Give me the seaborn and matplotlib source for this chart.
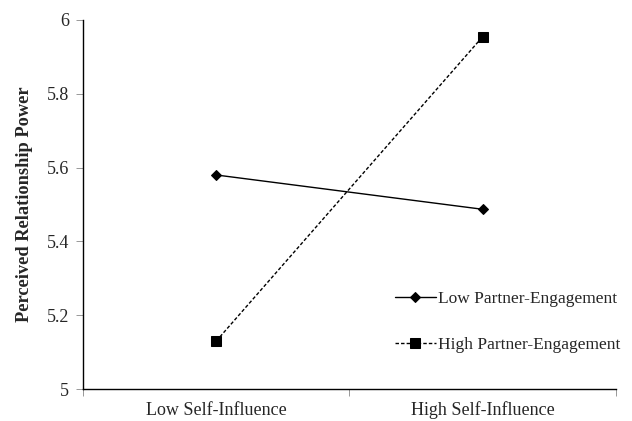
import matplotlib
matplotlib.use("Agg")
import matplotlib.pyplot as plt
import seaborn as sns
import pandas as pd
from matplotlib.ticker import FixedLocator, NullFormatter

categories = ["Low Self-Influence", "High Self-Influence"]
low_pe = [5.58, 5.487]
high_pe = [5.13, 5.955]
series_names = ["Low Partner-Engagement", "High Partner-Engagement"]
y_ticks = [5, 5.2, 5.4, 5.6, 5.8, 6]

df = pd.DataFrame({
    "cond": categories * 2,
    "power": low_pe + high_pe,
    "group": [series_names[0]] * 2 + [series_names[1]] * 2,
})

sns.set_theme(style="ticks")
plt.rcParams["font.family"] = ["Liberation Serif", "DejaVu Serif"]

fig = plt.figure(figsize=(6.32, 4.21), dpi=100)
ax = fig.add_axes([0.1313, 0.076, 0.8434, 0.8765])

sns.lineplot(data=df, x="cond", y="power", hue="group", style="group",
             palette=["black", "black"], markers={series_names[0]: "D", series_names[1]: "s"},
             dashes={series_names[0]: "", series_names[1]: (2.5, 1.5)},
             markersize=6.5, linewidth=1.0, ax=ax, legend=True)
for line in ax.lines:
    if line.get_marker() == "D":
        line.set_markersize(5)
    line.set_markeredgecolor("black")

ax.set_xlim(-0.5, 1.5)
ax.set_ylim(5, 6)
ax.set_yticks(y_ticks)
ax.set_yticklabels(["5", "5.2", "5.4", "5.6", "5.8", "6"], fontsize=13)
ax.xaxis.set_major_locator(FixedLocator([-0.5, 0.5, 1.5]))
ax.xaxis.set_major_formatter(NullFormatter())
ax.xaxis.set_minor_locator(FixedLocator([0, 1]))
ax.set_xticklabels(categories, minor=True, fontsize=13)
ax.tick_params(axis="x", which="major", bottom=True, length=5, width=0.6, color="#888888", direction="out")
ax.tick_params(axis="x", which="minor", bottom=True, length=0, pad=9)
ax.tick_params(axis="y", which="major", left=True, length=5, width=0.6, color="#888888", direction="out", pad=5)
ax.set_xlabel("")
ax.set_ylabel("Perceived Relationship Power", fontsize=13.2, fontweight="bold", labelpad=10)
for s in ["top", "right"]:
    ax.spines[s].set_visible(False)
for s in ["left", "bottom"]:
    ax.spines[s].set_color("black")
    ax.spines[s].set_linewidth(1.0)

leg = ax.legend(loc="upper left", bbox_to_anchor=(0.572, 0.285), frameon=False,
                fontsize=12.5, handlelength=2.35, handletextpad=0.15, labelspacing=1.7,
                borderaxespad=0)
ax.set_facecolor("white")
fig.savefig("out.png", dpi=100, facecolor="white")
